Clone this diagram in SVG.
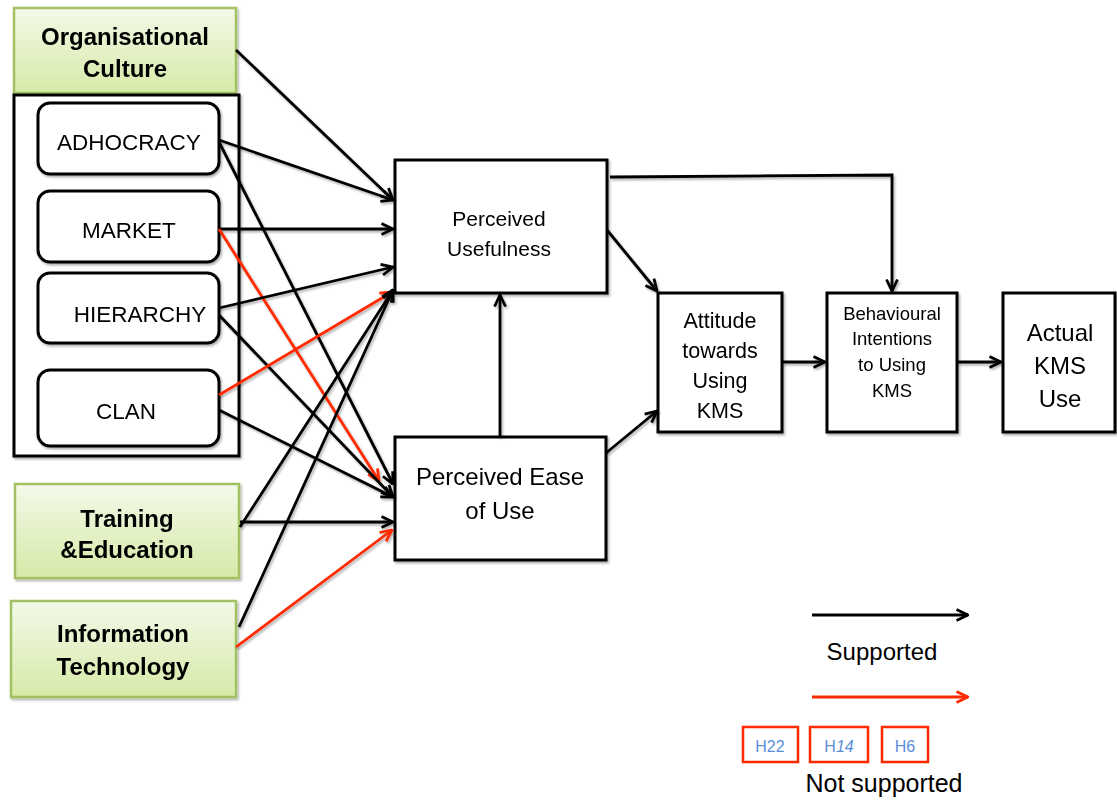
<svg xmlns="http://www.w3.org/2000/svg" width="1117" height="800" viewBox="0 0 1117 800">
  <style>
    .box { fill: #ffffff; stroke: #000000; stroke-width: 3; }
    .green { fill: url(#greenFill); stroke: #a3c163; stroke-width: 2.5; }
    .t { font-family: "Liberation Sans", Arial, sans-serif; fill: #000000; text-anchor: middle; }
    .b { font-weight: bold; }
    .c { fill: none; stroke: #000000; stroke-width: 2.8; marker-end: url(#arrowBlack); }
    .r { fill: none; stroke: #ff2a00; stroke-width: 2.8; marker-end: url(#arrowRed); }
    .tag { fill: #ffffff; stroke: #ff2a00; stroke-width: 2.5; }
    .tagText { font-family: "Liberation Sans", Arial, sans-serif; font-size: 16px; fill: #5a8ed8; text-anchor: middle; }
  </style>
  <defs>
    <linearGradient id="greenFill" x1="0" y1="0" x2="0" y2="1">
      <stop offset="0" stop-color="#f3f9e9"/>
      <stop offset="1" stop-color="#d6eaa8"/>
    </linearGradient>
    <filter id="shadow" x="-10%" y="-10%" width="130%" height="130%">
      <feDropShadow dx="1.5" dy="2" stdDeviation="1.2" flood-color="#000000" flood-opacity="0.3"/>
    </filter>
    <marker id="arrowBlack" viewBox="0 0 14 14" refX="13" refY="7" markerWidth="14" markerHeight="14" markerUnits="userSpaceOnUse" orient="auto">
      <path d="M1.5,1.5 L13,7 L1.5,12.5" fill="none" stroke="#000000" stroke-width="2.8"/>
    </marker>
    <marker id="arrowRed" viewBox="0 0 14 14" refX="13" refY="7" markerWidth="14" markerHeight="14" markerUnits="userSpaceOnUse" orient="auto">
      <path d="M1.5,1.5 L13,7 L1.5,12.5" fill="none" stroke="#ff2a00" stroke-width="2.8"/>
    </marker>
  </defs>

  <rect width="1117" height="800" fill="#ffffff"/>

  <!-- external factors -->
  <g id="organisational-culture" filter="url(#shadow)">
    <rect class="green" x="14" y="8" width="222" height="85"/>
    <text class="t b" font-size="24" x="125" y="45">Organisational</text>
    <text class="t b" font-size="24" x="125" y="77">Culture</text>
  </g>

  <g id="culture-types" filter="url(#shadow)">
    <rect class="box" x="14" y="95" width="225" height="361"/>
  </g>
  <g id="adhocracy" filter="url(#shadow)">
    <rect class="box" x="38" y="103" width="181" height="71" rx="12"/>
    <text class="t" font-size="22.5" x="129" y="150">ADHOCRACY</text>
  </g>
  <g id="market" filter="url(#shadow)">
    <rect class="box" x="38" y="191" width="181" height="71" rx="12"/>
    <text class="t" font-size="22.5" x="129" y="238">MARKET</text>
  </g>
  <g id="hierarchy" filter="url(#shadow)">
    <rect class="box" x="38" y="273" width="181" height="70" rx="12"/>
    <text class="t" font-size="22.5" x="140" y="322">HIERARCHY</text>
  </g>
  <g id="clan" filter="url(#shadow)">
    <rect class="box" x="38" y="370" width="181" height="76" rx="12"/>
    <text class="t" font-size="22.5" x="126" y="419">CLAN</text>
  </g>

  <g id="training-education" filter="url(#shadow)">
    <rect class="green" x="15" y="484" width="224" height="94"/>
    <text class="t b" font-size="24" x="127" y="527">Training</text>
    <text class="t b" font-size="24" x="127" y="558">&amp;Education</text>
  </g>

  <g id="information-technology" filter="url(#shadow)">
    <rect class="green" x="11" y="601" width="225" height="96"/>
    <text class="t b" font-size="24" x="123" y="642">Information</text>
    <text class="t b" font-size="24" x="123" y="675">Technology</text>
  </g>

  <!-- TAM constructs -->
  <g id="perceived-usefulness" filter="url(#shadow)">
    <rect class="box" x="395" y="160" width="212" height="133"/>
    <text class="t" font-size="21" x="499" y="226">Perceived</text>
    <text class="t" font-size="21" x="499" y="256">Usefulness</text>
  </g>

  <g id="perceived-ease-of-use" filter="url(#shadow)">
    <rect class="box" x="395" y="437" width="211" height="123"/>
    <text class="t" font-size="24" x="500" y="485">Perceived Ease</text>
    <text class="t" font-size="24" x="500" y="519">of Use</text>
  </g>

  <g id="attitude" filter="url(#shadow)">
    <rect class="box" x="658" y="293" width="124" height="139"/>
    <text class="t" font-size="21.5" x="720" y="328">Attitude</text>
    <text class="t" font-size="21.5" x="720" y="358">towards</text>
    <text class="t" font-size="21.5" x="720" y="388">Using</text>
    <text class="t" font-size="21.5" x="720" y="418">KMS</text>
  </g>

  <g id="behavioural-intentions" filter="url(#shadow)">
    <rect class="box" x="827" y="293" width="130" height="139"/>
    <text class="t" font-size="18.5" x="892" y="320">Behavioural</text>
    <text class="t" font-size="18.5" x="892" y="345">Intentions</text>
    <text class="t" font-size="18.5" x="892" y="371">to Using</text>
    <text class="t" font-size="18.5" x="892" y="397">KMS</text>
  </g>

  <g id="actual-use" filter="url(#shadow)">
    <rect class="box" x="1003" y="293" width="112" height="139"/>
    <text class="t" font-size="24" x="1060" y="341">Actual</text>
    <text class="t" font-size="24" x="1060" y="374">KMS</text>
    <text class="t" font-size="24" x="1060" y="407">Use</text>
  </g>

  <!-- paths between constructs -->
  <g id="connectors" filter="url(#shadow)">
    <path class="c" d="M236,50 L393,200"/>
    <path class="c" d="M219,140 L393,200"/>
    <path class="c" d="M219,142 L393,484"/>
    <path class="c" d="M219,229 L393,229"/>
    <path class="r" d="M219,229 L379,481"/>
    <path class="c" d="M219,308 L393,267"/>
    <path class="c" d="M219,315 L393,497"/>
    <path class="r" d="M219,395 L392,292"/>
    <path class="c" d="M219,410 L393,497"/>
    <path class="c" d="M240,527 L393,290"/>
    <path class="c" d="M240,522 L393,522"/>
    <path class="c" d="M239,627 L393,290"/>
    <path class="r" d="M236,647 L392,530"/>
    <path class="c" d="M500,437 L500,295"/>
    <path class="c" d="M607,230 L657,291"/>
    <path class="c" d="M610,177 L892,175 L892,291"/>
    <path class="c" d="M606,453 L657,411"/>
    <path class="c" d="M782,362 L825,362"/>
    <path class="c" d="M957,362 L1001,362"/>
  </g>

  <!-- key -->
  <g id="legend">
    <path class="c" d="M812,615 L968,615"/>
    <text class="t" font-size="24" x="882" y="660">Supported</text>
    <path class="r" d="M812,697 L968,697"/>
    <rect class="tag" x="743" y="727" width="55" height="35"/>
    <text class="tagText" x="770" y="752">H22</text>
    <rect class="tag" x="810" y="727" width="58" height="35"/>
    <text class="tagText" x="839" y="752">H<tspan font-style="italic">14</tspan></text>
    <rect class="tag" x="882" y="727" width="46" height="35"/>
    <text class="tagText" x="905" y="752">H6</text>
    <text class="t" font-size="25" x="884" y="792">Not supported</text>
  </g>
</svg>
